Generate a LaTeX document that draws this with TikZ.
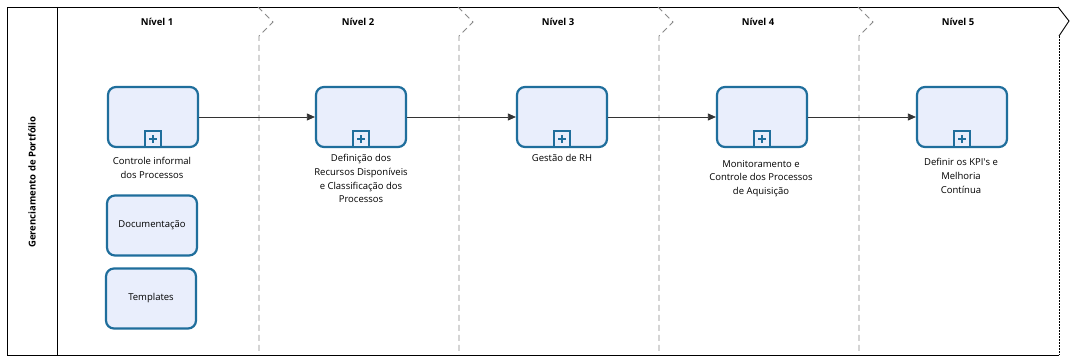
\documentclass[tikz,border=0pt]{standalone}
\usepackage{fontspec}
\setmainfont{Open Sans}
\usetikzlibrary{arrows.meta}
\definecolor{taskblue}{HTML}{1F6E9C}
\definecolor{taskfill}{HTML}{E9EEFC}
\definecolor{sepgray}{HTML}{8A8A8A}
\tikzset{
  task/.style={draw=taskblue, fill=taskfill, line width=2.2pt, rounded corners=8pt,
    minimum width=90pt, minimum height=60pt, inner sep=0pt, font=\fontsize{9.5}{12}\selectfont},
  marker/.style={draw=taskblue, fill=taskfill, line width=1.3pt, minimum size=16pt, inner sep=0pt},
  lbl/.style={align=center, anchor=north, font=\fontsize{9.5}{13.8}\selectfont, inner sep=0pt},
  hdr/.style={font=\bfseries\fontsize{9.5}{12}\selectfont, inner sep=0pt},
  sep/.style={draw=sepgray, dashed, dash pattern=on 6pt off 4pt, line width=0.8pt},
  flow/.style={draw=black!80, line width=0.8pt, -{Triangle[length=8pt,width=7pt]}}
}
\newcommand{\plusmark}[1]{%
  \node[marker] (#1m) at ([yshift=9pt]#1.south) {};
  \draw[taskblue, line width=2pt] ([xshift=-4pt]#1m.center) -- ([xshift=4pt]#1m.center);
  \draw[taskblue, line width=2pt] ([yshift=-4pt]#1m.center) -- ([yshift=4pt]#1m.center);
}
\begin{document}
\begin{tikzpicture}[x=1pt,y=-1pt]
\useasboundingbox[fill=white] (0,0) rectangle (1070,358);
% frame
\draw[black, line width=0.9pt] (1058,7) -- (7,7) -- (7,355) -- (1059,355);
\draw[black, line width=0.9pt] (1058,7) -- (1069,21) -- (1059,36);
\draw[black, line width=0.7pt, dash pattern=on 2pt off 1pt] (1059,36) -- (1059,355);
\draw[black, line width=0.9pt] (57,7) -- (57,355);
\node[hdr, rotate=90] (lane) at (32,182) {Gerenciamento de Portfólio};
% separators
\foreach \x in {258,458,658,858}{
  \draw[sep] (\x,7) -- (\x+15,22) -- (\x+1,36) -- (\x+1,355);
}
% headers
\node[hdr] (h1) at (157,22) {Nível 1};
\node[hdr] (h2) at (358,22) {Nível 2};
\node[hdr] (h3) at (558,22) {Nível 3};
\node[hdr] (h4) at (758,22) {Nível 4};
\node[hdr] (h5) at (958,22) {Nível 5};
% tasks
\node[task] (t1) at (153,117) {};
\node[task] (t2) at (361,117) {};
\node[task] (t3) at (562,117) {};
\node[task] (t4) at (762,117) {};
\node[task] (t5) at (962,117) {};
\plusmark{t1}\plusmark{t2}\plusmark{t3}\plusmark{t4}\plusmark{t5}
\node[task] (doc) at (152,225.5) {Documentação};
\node[task] (tpl) at (151,298.5) {Templates};
% labels
\node[lbl] (l1) at (152,157) {Controle informal\\dos Processos};
\node[lbl] (l2) at (361,154) {Definição dos\\Recursos Disponíveis\\e Classificação dos\\Processos};
\node[lbl] (l3) at (562,154) {Gestão de RH};
\node[lbl] (l4) at (761,160) {Monitoramento e\\Controle dos Processos\\de Aquisição};
\node[lbl] (l5) at (961,158) {Definir os KPI\textquotesingle s e\\Melhoria\\Contínua};
% flows
\draw[flow] (t1) -- (t2);
\draw[flow] (t2) -- (t3);
\draw[flow] (t3) -- (t4);
\draw[flow] (t4) -- (t5);
\end{tikzpicture}
\end{document}
